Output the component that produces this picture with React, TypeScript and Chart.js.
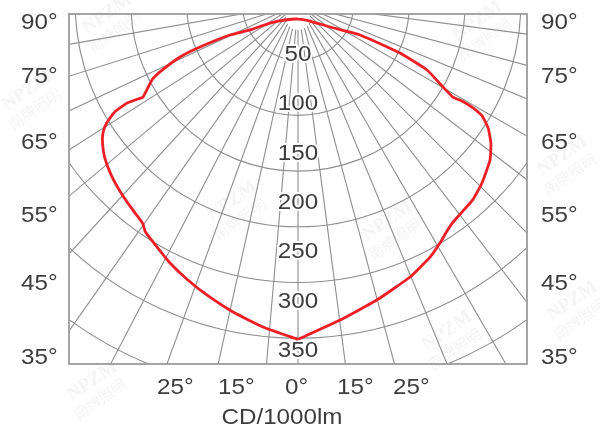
import React, { useEffect, useRef } from "react";
import { Chart, registerables } from "chart.js";

Chart.register(...registerables);

// ---- data ----
// Signed angle from nadir in degrees (negative = left half), intensity in cd/1000lm
const curveAngles = [
  0, -6.2, -11.9, -17.4, -21.9, -26.3, -30.1, -33.9, -35.2, -37.1, -39.2, -43.0, -47.4, -51.6,
  -54.5, -56.5, -58.1, -59.5, -59.9, -59.3, -59.0, -62.5, -63.8, -65.8, -66.3, -65.5, -61.6,
  -55.8, -39.1, 0, 35.2, 54.3, 63.4, 64.3, 62.9, 60.2, 59.0, 59.4, 59.3, 58.7, 56.9, 54.2, 50.9,
  45.8, 41.8, 37.6, 35.4, 33.4, 30.7, 27.6, 22.3, 14.9, 7.6, 0,
];
const curveIntensity = [
  301, 291.6, 282.6, 273.7, 266.5, 259.3, 252.2, 246.0, 241.5, 238.8, 236.5, 232.5, 227.5, 221.5,
  215.5, 210.0, 202.5, 191.0, 177.4, 167.0, 162.3, 147.8, 138.1, 116.1, 96.1, 67.1, 49.0,
  30.4, 18.5, 13.5, 18.7, 35.4, 62.2, 101.6, 130.1, 150.0, 162.3, 171.0, 182.7, 193.4, 203.7, 213.5, 222.1,
  230.4, 235.5, 238.3, 240.3, 243.5, 249.6, 256.2, 264.9, 275.0, 286.2, 301,
];

// grid: rings (cd/1000lm) and radial lines (signed degrees)
const ringValues = [50, 100, 150, 200, 250, 300, 350];
const ringLabels = ["50", "100", "150", "200", "250", "300", "350"];
const gridAngles = [
  -87.5, -80, -72.5, -65, -57.5, -50, -42.5, -35, -27.5, -20, -12.5, -5, 0,
  7.5, 15, 22.5, 30, 37.5, 45, 52.5, 60, 67.5, 75, 82.5,
];
const sideLabels = ["90°", "75°", "65°", "55°", "45°", "35°"];
const bottomLabels = ["25°", "15°", "0°", "15°", "25°"];
const axisTitle = "CD/1000lm";
const watermarkLatin = "NPZM";
const watermarkCjk = "南牌照明";

// ---- layout / style ----
const W = 600;
const H = 437;
const PX_PER_UNIT = 1.114;
const AREA = { left: 69, top: 14, right: 527, bottom: 364 };
const CENTER_PX = { x: 298, y: 4 };
const X_MIN = -(CENTER_PX.x - AREA.left) / PX_PER_UNIT;
const X_MAX = (AREA.right - CENTER_PX.x) / PX_PER_UNIT;
const Y_MAX = -(AREA.top - CENTER_PX.y) / PX_PER_UNIT;
const Y_MIN = -(AREA.bottom - CENTER_PX.y) / PX_PER_UNIT;
const LABEL_RADIUS_FACTOR = 0.885;
const SIDE_LABEL_Y = [21, 75, 141, 214, 282, 356];
const BOTTOM_LABEL_X = [157, 218, 285, 337, 393];
const BOTTOM_LABEL_Y = 386;
const TITLE_POS = { x: 282, y: 416 };
const FONT_SIZE = 22;
const FONT = `${FONT_SIZE}px "Liberation Sans", Arial, Helvetica, sans-serif`;
const TEXT_COLOR = "#3d3d3d";
const GRID_COLOR = "#8e8e8e";
const FRAME_COLOR = "#9c9c9c";
const CURVE_COLOR = "#ec1f26";
const WATERMARKS = [
  { x: 110, y: 18 }, { x: 30, y: 95 }, { x: 235, y: 205 }, { x: 390, y: 225 },
  { x: 480, y: 25 }, { x: 565, y: 160 }, { x: 95, y: 385 }, { x: 450, y: 335 }, { x: 575, y: 305 },
];

function drawText(
  ctx: CanvasRenderingContext2D,
  text: string,
  x: number,
  centerY: number,
  align: CanvasTextAlign,
  halo = false
) {
  ctx.save();
  ctx.font = FONT;
  ctx.textAlign = align;
  ctx.textBaseline = "alphabetic";
  ctx.translate(x, centerY + FONT_SIZE * 0.358);
  ctx.scale(1.1, 1);
  if (halo) {
    ctx.lineWidth = 4;
    ctx.lineJoin = "round";
    ctx.strokeStyle = "#ffffff";
    ctx.strokeText(text, 0, 0);
  }
  ctx.fillStyle = TEXT_COLOR;
  ctx.fillText(text, 0, 0);
  ctx.restore();
}

const polarGridPlugin = {
  id: "polarGrid",
  beforeDatasetsDraw(chart: any) {
    const { ctx, chartArea: ca, scales } = chart;
    const xs = scales.x;
    const ys = scales.y;
    const cx = xs.getPixelForValue(0);
    const cy = ys.getPixelForValue(0);
    const ppu = xs.getPixelForValue(1) - cx;

    // watermarks
    ctx.save();
    for (const w of WATERMARKS) {
      ctx.save();
      ctx.translate(w.x, w.y);
      ctx.rotate(-0.6);
      ctx.fillStyle = "rgba(170,170,170,0.13)";
      ctx.textAlign = "center";
      ctx.font = 'bold 19px "Liberation Serif", serif';
      ctx.fillText(watermarkLatin, 0, 0);
      ctx.font = '15px "Noto Sans CJK SC", sans-serif';
      ctx.fillText(watermarkCjk, -4, 20);
      ctx.restore();
    }
    ctx.restore();

    ctx.save();
    ctx.beginPath();
    ctx.rect(ca.left, ca.top, ca.right - ca.left, ca.bottom - ca.top);
    ctx.clip();
    ctx.strokeStyle = GRID_COLOR;
    ctx.lineWidth = 1.1;
    for (const v of ringValues) {
      ctx.beginPath();
      ctx.arc(cx, cy, v * ppu, 0, Math.PI);
      ctx.stroke();
    }
    for (const a of gridAngles) {
      const r = (a * Math.PI) / 180;
      const ex = xs.getPixelForValue(700 * Math.sin(r));
      const ey = ys.getPixelForValue(-700 * Math.cos(r));
      ctx.beginPath();
      ctx.moveTo(cx, cy);
      ctx.lineTo(ex, ey);
      ctx.stroke();
    }
    // white blob around the origin
    ctx.fillStyle = "#ffffff";
    ctx.beginPath();
    ctx.arc(cx, cy + 14, 12, 0, Math.PI * 2);
    ctx.fill();
    ctx.restore();

    // frame
    ctx.save();
    ctx.strokeStyle = FRAME_COLOR;
    ctx.lineWidth = 1.8;
    ctx.strokeRect(ca.left, ca.top, ca.right - ca.left, ca.bottom - ca.top);
    ctx.restore();

    // ring labels
    ringValues.forEach((v, i) => {
      const py = ys.getPixelForValue(-v * LABEL_RADIUS_FACTOR);
      drawText(ctx, ringLabels[i], cx, py, "center", true);
    });
  },
  afterDraw(chart: any) {
    const { ctx } = chart;
    sideLabels.forEach((t, i) => {
      drawText(ctx, t, 21, SIDE_LABEL_Y[i], "left");
      drawText(ctx, t, 541, SIDE_LABEL_Y[i], "left");
    });
    bottomLabels.forEach((t, i) => {
      drawText(ctx, t, BOTTOM_LABEL_X[i], BOTTOM_LABEL_Y, "left");
    });
    drawText(ctx, axisTitle, TITLE_POS.x, TITLE_POS.y, "center");
  },
};

export default function App() {
  const canvasRef = useRef<HTMLCanvasElement | null>(null);

  useEffect(() => {
    const canvas = canvasRef.current;
    if (!canvas) return;
    const points = curveAngles.map((a, i) => {
      const r = (a * Math.PI) / 180;
      return { x: curveIntensity[i] * Math.sin(r), y: -curveIntensity[i] * Math.cos(r) };
    });
    const chart = new Chart(canvas, {
      type: "scatter",
      data: {
        datasets: [
          {
            data: points,
            showLine: true,
            borderColor: CURVE_COLOR,
            borderWidth: 2.8,
            pointRadius: 0,
            tension: 0.15,
            borderJoinStyle: "round",
            fill: false,
          } as any,
        ],
      },
      options: {
        responsive: false,
        animation: false,
        devicePixelRatio: 1,
        layout: {
          padding: {
            left: AREA.left,
            top: AREA.top,
            right: W - AREA.right,
            bottom: H - AREA.bottom,
          },
        },
        scales: {
          x: { type: "linear", display: false, min: X_MIN, max: X_MAX },
          y: { type: "linear", display: false, min: Y_MIN, max: Y_MAX },
        },
        plugins: {
          legend: { display: false },
          tooltip: { enabled: false },
        },
      },
      plugins: [polarGridPlugin],
    });
    return () => chart.destroy();
  }, []);

  return (
    <div
      style={{
        position: "fixed",
        left: 0,
        top: 0,
        width: W,
        height: H,
        background: "#ffffff",
      }}
    >
      <canvas ref={canvasRef} width={W} height={H} style={{ width: W, height: H, display: "block" }} />
    </div>
  );
}
